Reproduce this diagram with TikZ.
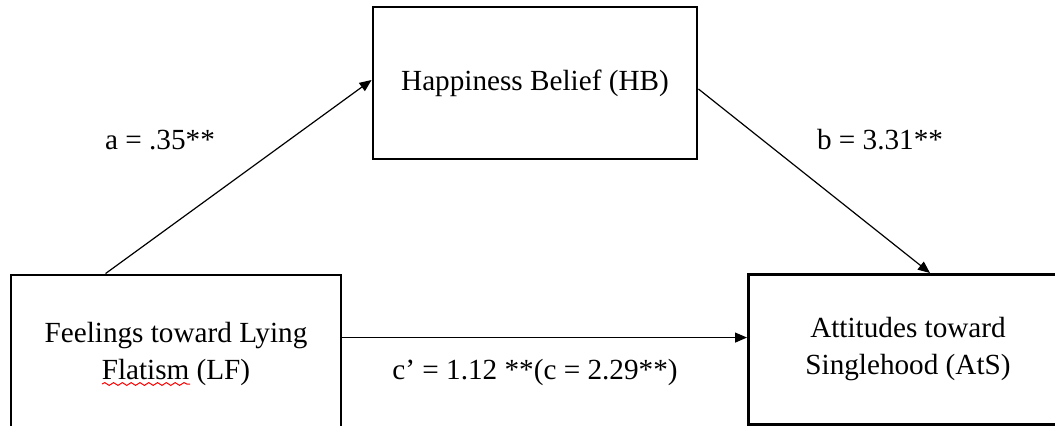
\documentclass[tikz,border=0pt]{standalone}
\usepackage{fontspec}
\setmainfont{Liberation Serif}
\usetikzlibrary{arrows.meta,calc,decorations.pathmorphing}
\begin{document}
\begin{tikzpicture}[x=0.5pt,y=-0.5pt,
  boxnode/.style={draw, line width=1.45pt, rectangle, inner sep=0pt, align=center,
    font=\fontsize{14.6}{18.5}\selectfont},
  lbl/.style={font=\fontsize{14.6}{18.5}\selectfont, inner sep=0pt},
  arr/.style={line width=0.6pt, -{Triangle[length=6pt,width=5pt]}}]
\useasboundingbox (0,0) rectangle (1055,425);
\clip (0,0) rectangle (1055,425);
\fill[white] (0,0) rectangle (1055,425);
\node[boxnode, minimum width=165pt, minimum height=79pt] (LF) at (176,354)
  {Feelings toward Lying\\Flatism (LF)};
\node[boxnode, minimum width=162pt, minimum height=76pt] (HB) at (535,83)
  {Happiness Belief (HB)};
\node[boxnode, minimum width=180pt, minimum height=75pt, anchor=north west] (AtS) at (747,273) {};
\node[lbl, align=center] (AtSt) at (908,349) {Attitudes toward\\Singlehood (AtS)};
\coordinate (c1) at ($(LF.north east)+(0,64)$);
\draw[arr] ($(LF.north west)+(96,0)$) -- ($(HB.west)+(0,-3)$);
\draw[arr] ($(HB.east)+(0,6)$) -- ($(AtS.north west)+(183,0)$);
\draw[arr] (c1) -- (c1 -| AtS.west);
\node[lbl] (la) at (160,140) {a = .35**};
\node[lbl] (lb) at (880,140) {b = 3.31**};
\node[lbl] (lc) at (535,372) {c’ = 1.12 **(c = 2.29**)};
\draw[red, line width=0.5pt, decorate, decoration={snake, amplitude=0.7pt, segment length=4.4pt}]
  (102,384) -- (190,384);
\end{tikzpicture}
\end{document}
